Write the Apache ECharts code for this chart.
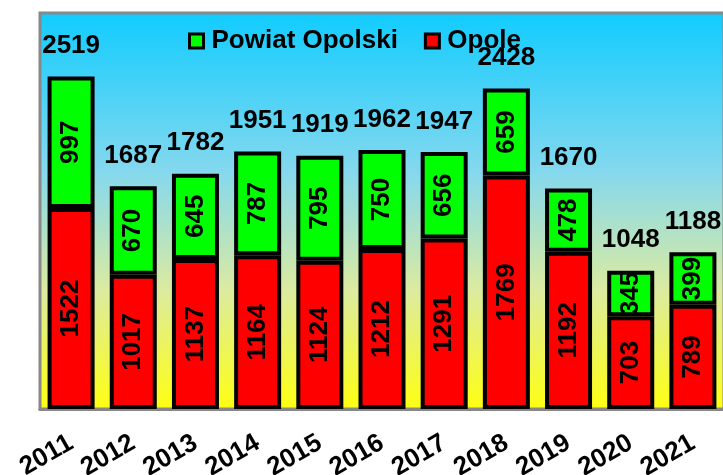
<!DOCTYPE html>
<html>
<head>
<meta charset="utf-8">
<script src="https://cdn.jsdelivr.net/npm/echarts@6/dist/echarts.min.js"></script>
<style>
  html, body { margin: 0; padding: 0; background: #fff; }
  #chart { width: 723px; height: 475px; }
</style>
</head>
<body>
<div id="chart"></div>
<script>
// dane
const years = ['2011', '2012', '2013', '2014', '2015', '2016', '2017', '2018', '2019', '2020', '2021']
const opole = [1522, 1017, 1137, 1164, 1124, 1212, 1291, 1769, 1192, 703, 789]
const powiat = [997, 670, 645, 787, 795, 750, 656, 659, 478, 345, 399]
const totals = [2519, 1687, 1782, 1951, 1919, 1962, 1947, 2428, 1670, 1048, 1188]

const font = 'Liberation Sans, Arial, sans-serif'
const insideLabel = {
  show: true,
  position: 'inside',
  rotate: 90,
  color: '#000',
  fontFamily: font,
  fontWeight: 'bold',
  fontSize: 26
}

const myChart = echarts.init(document.getElementById('chart'))
const option = {
  animation: false,
  backgroundColor: '#fff',
  legend: {
    data: ['Powiat Opolski', 'Opole'],
    left: 183,
    top: 23,
    itemWidth: 14,
    itemHeight: 14,
    itemGap: 26,
    icon: 'rect',
    itemStyle: { borderColor: '#000', borderWidth: 3 },
    textStyle: {
      color: '#000',
      fontFamily: font,
      fontWeight: 'bold',
      fontSize: 26,
      padding: [0, 0, 0, 3]
    }
  },
  grid: {
    show: true,
    left: 40,
    top: 13,
    width: 684,
    bottom: 66,
    outerBoundsMode: 'none',
    containLabel: false,
    borderColor: '#888',
    borderWidth: 3,
    backgroundColor: {
      type: 'linear', x: 0, y: 0, x2: 0, y2: 1,
      colorStops: [
        { offset: 0, color: '#10ccff' },
        { offset: 0.4, color: '#84d8ee' },
        { offset: 0.7, color: '#dcebA0' },
        { offset: 1, color: '#ffff10' }
      ]
    }
  },
  xAxis: {
    type: 'category',
    data: years,
    axisLine: { lineStyle: { color: '#888', width: 3 } },
    axisTick: { length: 6, lineStyle: { color: '#444', width: 1 } },
    axisLabel: {
      interval: 0,
      rotate: 30,
      margin: 32,
      color: '#000',
      fontFamily: font,
      fontWeight: 'bold',
      fontSize: 26
    }
  },
  yAxis: {
    type: 'value',
    min: 0,
    max: 3000,
    show: false,
    splitLine: { show: false }
  },
  series: [
    {
      name: 'Opole',
      type: 'bar',
      stack: 'all',
      barWidth: 47,
      data: opole,
      itemStyle: { color: '#ff0000', borderColor: '#000', borderWidth: 4 },
      label: insideLabel
    },
    {
      name: 'Powiat Opolski',
      type: 'bar',
      stack: 'all',
      data: powiat,
      itemStyle: { color: '#00ff00', borderColor: '#000', borderWidth: 4 },
      label: insideLabel
    },
    {
      name: 'Suma',
      type: 'line',
      data: totals,
      symbol: 'circle',
      symbolSize: 1,
      itemStyle: { color: 'transparent' },
      lineStyle: { width: 0, opacity: 0 },
      z: 10,
      label: {
        show: true,
        position: 'top',
        distance: 17,
        color: '#000',
        fontFamily: font,
        fontWeight: 'bold',
        fontSize: 26
      }
    }
  ]
}
myChart.setOption(option)
</script>
</body>
</html>
